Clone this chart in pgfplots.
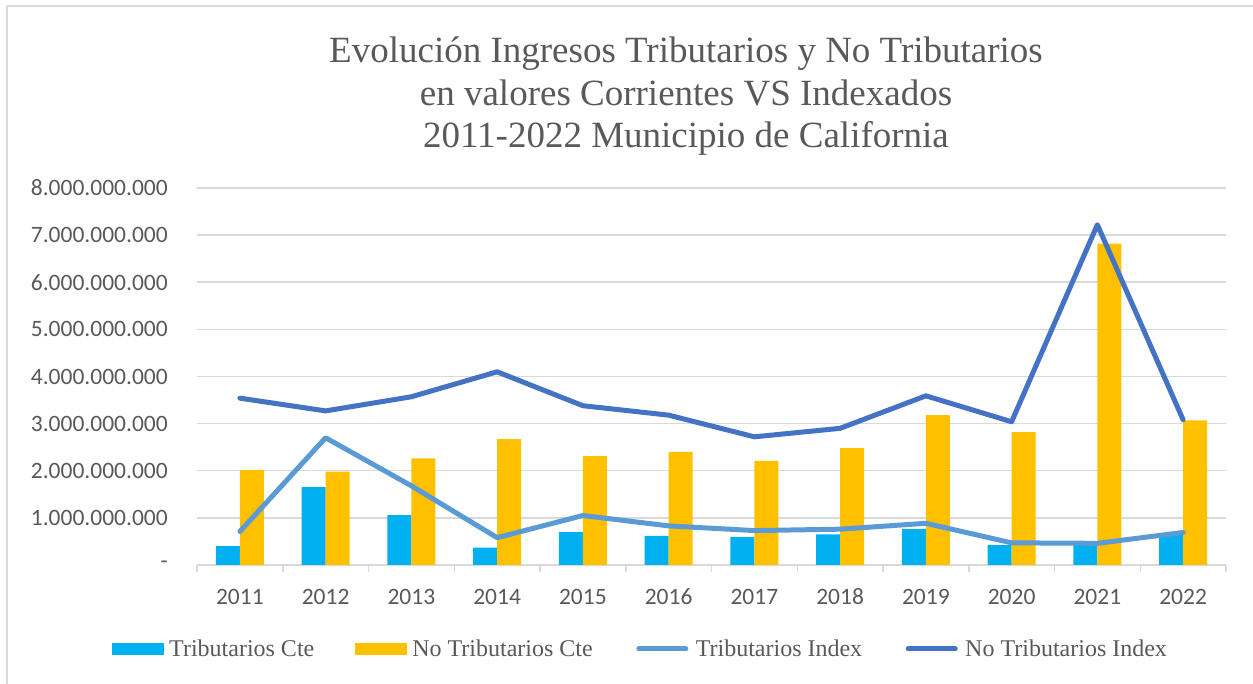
\documentclass[border=0pt]{standalone}
\usepackage{fontspec}
\setmainfont{Liberation Serif}
\newfontfamily\tickfont{Carlito}
\usepackage{pgfplots}
\pgfplotsset{compat=1.18}
\definecolor{tribcte}{HTML}{00B0F0}
\definecolor{notribcte}{HTML}{FFC000}
\definecolor{tribidx}{HTML}{5B9BD5}
\definecolor{notribidx}{HTML}{4472C4}
\definecolor{txtgray}{HTML}{595959}
\definecolor{gridgray}{HTML}{D9D9D9}

\pgfplotstableread{
x tribcte notribcte tribidx notribidx
0  0.40 2.02 0.71  3.54
1  1.65 1.98 2.70  3.27
2  1.06 2.26 1.68  3.57
3  0.37 2.67 0.58  4.10
4  0.70 2.31 1.05  3.38
5  0.62 2.40 0.83  3.18
6  0.59 2.21 0.73  2.72
7  0.65 2.48 0.76  2.90
8  0.76 3.18 0.885 3.59
9  0.42 2.82 0.47  3.04
10 0.45 6.82 0.46  7.22
11 0.66 3.07 0.69  3.08
}\datatable

\begin{document}
\begin{tikzpicture}[x=1pt,y=1pt]
\begin{axis}[
  at={(197pt,119pt)}, anchor=south west,
  scale only axis, width=1029pt, height=377pt,
  xmin=-0.5, xmax=11.5, ymin=0, ymax=8,
  clip=false,
  axis lines*=left,
  y axis line style={draw=none},
  x axis line style={-, draw=gridgray, line width=1.5pt},
  ymajorgrids, grid style={gridgray, line width=1.5pt},
  xtick={0,...,11},
  xticklabels={2011,2012,2013,2014,2015,2016,2017,2018,2019,2020,2021,2022},
  minor xtick={-0.5,0.5,...,11.5},
  ytick={0,...,8},
  yticklabels={-\hspace{10pt},1.000.000.000,2.000.000.000,3.000.000.000,4.000.000.000,5.000.000.000,6.000.000.000,7.000.000.000,8.000.000.000},
  tick align=outside,
  major tick length=0pt,
  minor tick length=7pt,
  minor x tick style={draw=gridgray, line width=1.5pt},
  xticklabel style={anchor=north, inner xsep=0pt, inner ysep=24pt, text height=15pt, text depth=0pt, font=\tickfont\fontsize{23.5}{24}\selectfont, text=txtgray},
  yticklabel style={anchor=east, inner ysep=0pt, inner xsep=29pt, font=\tickfont\fontsize{23.5}{24}\selectfont, text=txtgray},
  legend columns=4,
  legend style={draw=none, fill=none, inner sep=0pt,
    at={(rel axis cs:-0.0826,-0.2228)}, anchor=west,
    font=\fontsize{24}{26}\selectfont, text=txtgray,
    nodes={inner sep=0pt},
    /tikz/every even column/.append style={column sep=41pt}},
]
\addplot[ybar, bar width=24pt, bar shift=-12pt, fill=tribcte, draw=none,
  legend image code/.code={\fill[tribcte] (0pt,-6pt) rectangle (52pt,6pt); \path (57pt,0pt);}]
  table[x=x, y=tribcte] {\datatable};
\addlegendentry{Tributarios Cte}
\addplot[ybar, bar width=24pt, bar shift=12pt, fill=notribcte, draw=none,
  legend image code/.code={\fill[notribcte] (0pt,-6pt) rectangle (52pt,6pt); \path (57pt,0pt);}]
  table[x=x, y=notribcte] {\datatable};
\addlegendentry{No Tributarios Cte}
\addplot[tribidx, line width=5pt, line join=round, line cap=round, mark=none,
  legend image code/.code={\draw[tribidx, line width=5pt, line cap=round] (2.5pt,0pt) -- (49.5pt,0pt); \path (0pt,0pt) (57pt,0pt);}]
  table[x=x, y=tribidx] {\datatable};
\addlegendentry{Tributarios Index}
\addplot[notribidx, line width=5pt, line join=round, line cap=round, mark=none,
  legend image code/.code={\draw[notribidx, line width=5pt, line cap=round] (2.5pt,0pt) -- (49.5pt,0pt); \path (0pt,0pt) (57pt,0pt);}]
  table[x=x, y=notribidx] {\datatable};
\addlegendentry{No Tributarios Index}
\end{axis}
\draw[gridgray, line width=1.5pt] (7pt,-2pt) -- (7pt,678pt) -- (1256pt,678pt);
\node[anchor=base, text=txtgray, font=\fontsize{37}{42}\selectfont] at (686pt,621pt) {Evolución Ingresos Tributarios y No Tributarios};
\node[anchor=base, text=txtgray, font=\fontsize{37}{42}\selectfont] at (686pt,578.5pt) {en valores Corrientes VS Indexados};
\node[anchor=base, text=txtgray, font=\fontsize{37}{42}\selectfont] at (686pt,536pt) {2011-2022 Municipio de California};
\pgfresetboundingbox
\useasboundingbox (0pt,0pt) rectangle (1253pt,684pt);
\end{tikzpicture}
\end{document}
